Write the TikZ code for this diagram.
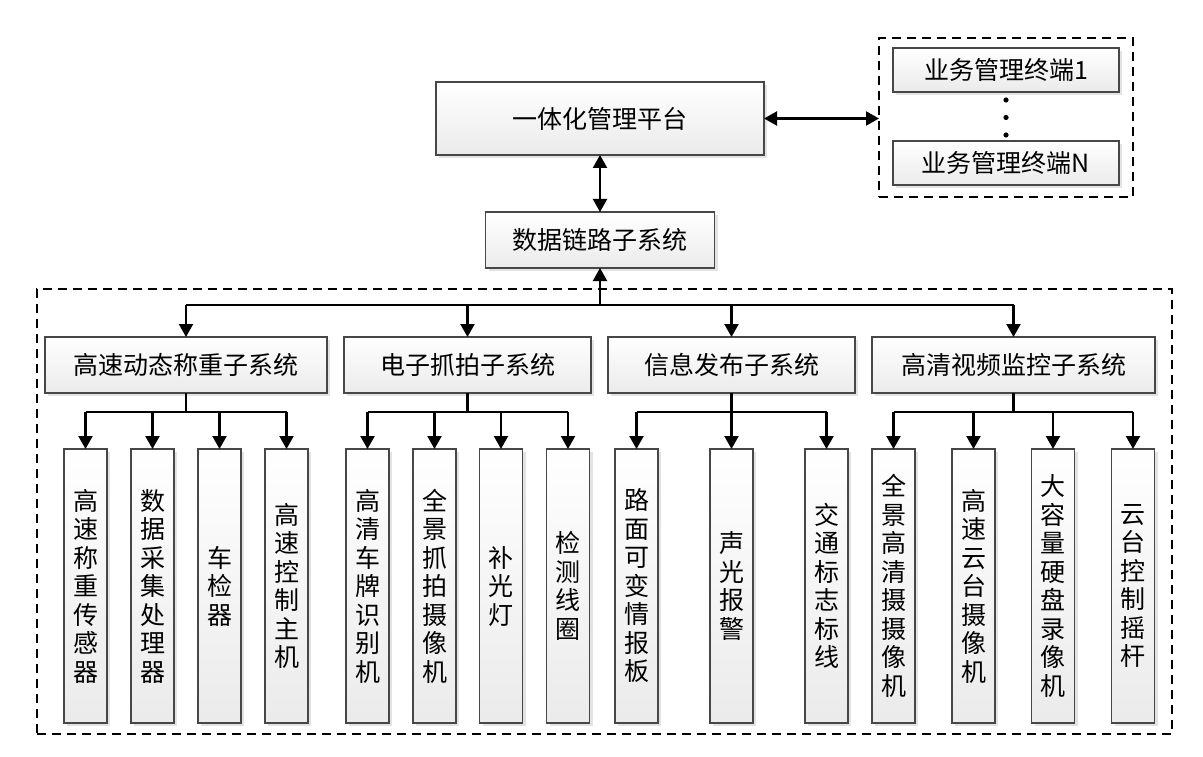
\documentclass[tikz,border=0pt]{standalone}
\usepackage{fontspec}
\newfontfamily\cjk{Noto Sans CJK SC}
\usetikzlibrary{arrows.meta,shadows}
\begin{document}
\begin{tikzpicture}[x=1pt,y=-1pt,
  box/.style={draw=black!72, line width=1.3pt, top color=white, bottom color=black!8,
    drop shadow={shadow xshift=3pt, shadow yshift=-3pt, opacity=0.22},
    inner sep=0pt, outer sep=0pt, text=black,
    font=\cjk\fontsize{25}{28.5}\selectfont, align=center},
  leaf/.style={box, minimum width=43pt, minimum height=274pt},
  sub/.style={box, minimum height=56pt},
  grp/.style={draw=black, line width=1.5pt, dash pattern=on 9pt off 6pt, inner sep=0pt, outer sep=0pt},
  conn/.style={line width=2.2pt, draw=black},
  arr/.style={conn, -{Triangle[length=13pt,width=14pt]}},
  darr/.style={conn, {Triangle[length=13pt,width=14pt]}-{Triangle[length=13pt,width=14pt]}}
]
\useasboundingbox (0,0) rectangle (1203,757);

% groups
\node[grp, minimum width=254pt, minimum height=159pt] (termgrp) at (1006,117.5) {};
\node[grp, minimum width=1135pt, minimum height=445pt] (sysgrp) at (604.5,511.5) {};

% top
\node[box, minimum width=328pt, minimum height=73pt] (T) at (600,118.5) {一体化管理平台};
\node[box, minimum width=229pt, minimum height=56pt] (D) at (600,240) {数据链路子系统};
\node[box, minimum width=226pt, minimum height=44pt] (t1) at (1006,70) {业务管理终端1};
\node[box, minimum width=226pt, minimum height=44pt] (tN) at (1006,163) {业务管理终端N};
\fill (1006,100) circle (2.6pt);
\fill (1006,117.5) circle (2.6pt);
\fill (1006,135) circle (2.6pt);

% subsystems
\node[sub, minimum width=282pt] (S1) at (186,365) {高速动态称重子系统};
\node[sub, minimum width=247pt] (S2) at (467.5,365) {电子抓拍子系统};
\node[sub, minimum width=247pt] (S3) at (731.5,365) {信息发布子系统};
\node[sub, minimum width=283pt] (S4) at (1013.5,365) {高清视频监控子系统};

% leaves
\node[leaf] (L11) at (85.5,586) {高\\速\\称\\重\\传\\感\\器};
\node[leaf] (L12) at (152.5,586) {数\\据\\采\\集\\处\\理\\器};
\node[leaf] (L13) at (219.5,586) {车\\检\\器};
\node[leaf] (L14) at (286.5,586) {高\\速\\控\\制\\主\\机};
\node[leaf] (L21) at (367.5,586) {高\\清\\车\\牌\\识\\别\\机};
\node[leaf] (L22) at (434.5,586) {全\\景\\抓\\拍\\摄\\像\\机};
\node[leaf] (L23) at (501,586) {补\\光\\灯};
\node[leaf] (L24) at (568,586) {检\\测\\线\\圈};
\node[leaf] (L31) at (636.5,586) {路\\面\\可\\变\\情\\报\\板};
\node[leaf] (L32) at (731.5,586) {声\\光\\报\\警};
\node[leaf] (L33) at (826.5,586) {交\\通\\标\\志\\标\\线};
\node[leaf] (L41) at (893.5,586) {全\\景\\高\\清\\摄\\摄\\像\\机};
\node[leaf] (L42) at (973.5,586) {高\\速\\云\\台\\摄\\像\\机};
\node[leaf] (L43) at (1053,586) {大\\容\\量\\硬\\盘\\录\\像\\机};
\node[leaf] (L44) at (1133,586) {云\\台\\控\\制\\摇\\杆};

% top connectors
\draw[darr] (T.south) -- (D.north);
\draw[darr] (T.east) -- (termgrp.west |- T.east);

% bus
\coordinate (bus) at (600,305);
\draw[conn] (S1.north |- bus) -- (S4.north |- bus);
\draw[arr] (D.south |- bus) -- (D.south);
\foreach \s in {S1,S2,S3,S4} \draw[arr] (\s.north |- bus) -- (\s.north);

% branches
\coordinate (br) at (0,412);
\draw[conn] (S1.south) -- (S1.south |- br);
\draw[conn] (L11.north |- br) -- (L14.north |- br);
\foreach \l in {L11,L12,L13,L14} \draw[arr] (\l.north |- br) -- (\l.north);
\draw[conn] (S2.south) -- (S2.south |- br);
\draw[conn] (L21.north |- br) -- (L24.north |- br);
\foreach \l in {L21,L22,L23,L24} \draw[arr] (\l.north |- br) -- (\l.north);
\draw[conn] (S3.south) -- (S3.south |- br);
\draw[conn] (L31.north |- br) -- (L33.north |- br);
\foreach \l in {L31,L32,L33} \draw[arr] (\l.north |- br) -- (\l.north);
\draw[conn] (S4.south) -- (S4.south |- br);
\draw[conn] (L41.north |- br) -- (L44.north |- br);
\foreach \l in {L41,L42,L43,L44} \draw[arr] (\l.north |- br) -- (\l.north);
\end{tikzpicture}
\end{document}
